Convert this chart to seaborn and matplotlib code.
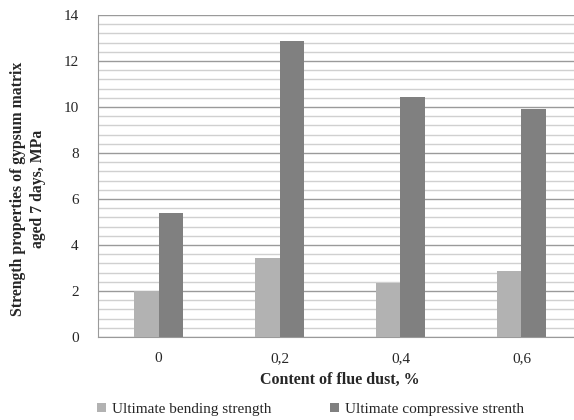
import matplotlib
matplotlib.use("Agg")
import matplotlib.pyplot as plt
import seaborn as sns
import pandas as pd
import numpy as np
from matplotlib.ticker import MultipleLocator
from matplotlib.patches import Patch

categories = ["0", "0,2", "0,4", "0,6"]
bending = [2.0, 3.42, 2.36, 2.86]
compressive = [5.38, 12.88, 10.45, 9.9]
series_names = ["Ultimate bending strength", "Ultimate compressive strenth"]
colors = ["#b2b2b2", "#808080"]

df = pd.DataFrame({
    "cat": categories * 2,
    "val": bending + compressive,
    "series": [series_names[0]] * 4 + [series_names[1]] * 4,
})

sns.set_style("white")
plt.rcParams["font.family"] = ["Liberation Serif", "DejaVu Serif"]

fig = plt.figure(figsize=(5.74, 4.2), dpi=100)
ax = fig.add_axes([98/574, 83/420, 484/574, 322/420])

sns.barplot(data=df, x="cat", y="val", hue="series", palette=colors,
            width=0.4, gap=0, ax=ax, legend=False, saturation=1, zorder=3,
            linewidth=0)

ax.set_ylim(0, 14)
ax.set_xlim(-0.5, 3.5)
ax.yaxis.set_major_locator(MultipleLocator(2))
ax.yaxis.set_minor_locator(MultipleLocator(0.4))
ax.grid(which="major", axis="y", color="#9a9a9a", linewidth=1.0, zorder=0)
ax.grid(which="minor", axis="y", color="#d0d0d0", linewidth=1.0, zorder=0)
ax.set_axisbelow(True)

for s in ["top", "right"]:
    ax.spines[s].set_visible(False)
ax.spines["left"].set_color("#9a9a9a")
ax.spines["bottom"].set_color("#9a9a9a")

ax.tick_params(axis="y", which="major", length=5, color="#9a9a9a", labelsize=11, pad=9)
ax.tick_params(axis="y", which="minor", length=0)
ax.tick_params(axis="x", length=0, labelsize=11, pad=11)

ax.set_xlabel("Content of flue dust, %", fontsize=11.5, fontweight="bold", labelpad=5)
ax.set_ylabel("Strength properties of gypsum matrix\naged 7 days, MPa", fontsize=11.3,
              fontweight="bold", linespacing=1.3)
ax.yaxis.set_label_coords(-0.108, 0.46)

handles = [Patch(facecolor=c, edgecolor="none") for c in colors]
fig.legend(handles, series_names, loc="lower left", bbox_to_anchor=(88/574, -0.012),
           ncol=2, frameon=False, fontsize=11, handlelength=0.6, handleheight=0.6,
           handletextpad=0.4, columnspacing=3.8, borderaxespad=0.2)

fig.savefig("out.png", dpi=100)
